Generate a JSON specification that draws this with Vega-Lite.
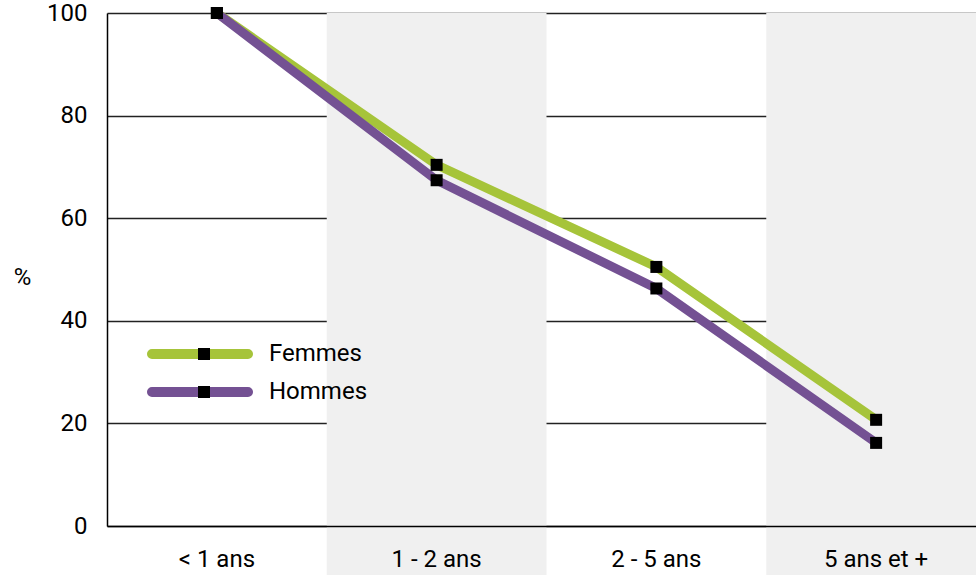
{
  "$schema": "https://vega.github.io/schema/vega-lite/v6.json",
  "autosize": "none",
  "width": 869,
  "height": 513,
  "padding": {"left": 107, "top": 13, "right": 0, "bottom": 49},
  "background": "white",
  "config": {
    "view": {"stroke": null},
    "font": "Roboto, sans-serif",
    "axis": {"labelFont": "Roboto, sans-serif", "labelColor": "black", "titleColor": "black", "titleFont": "Roboto, sans-serif"},
    "legend": {"labelFont": "Roboto, sans-serif"}
  },
  "datasets": {
    "bands": [{"age": "1 - 2 ans"}, {"age": "5 ans et +"}],
    "main": [
      {"age": "< 1 ans", "sexe": "Femmes", "serie": "F", "pct": 100},
      {"age": "1 - 2 ans", "sexe": "Femmes", "serie": "F", "pct": 70.4},
      {"age": "2 - 5 ans", "sexe": "Femmes", "serie": "F", "pct": 50.5},
      {"age": "5 ans et +", "sexe": "Femmes", "serie": "F", "pct": 20.7},
      {"age": "< 1 ans", "sexe": "Hommes", "serie": "H", "pct": 100},
      {"age": "1 - 2 ans", "sexe": "Hommes", "serie": "H", "pct": 67.4},
      {"age": "2 - 5 ans", "sexe": "Hommes", "serie": "H", "pct": 46.3},
      {"age": "5 ans et +", "sexe": "Hommes", "serie": "H", "pct": 16.2}
    ]
  },
  "encoding": {
    "x": {
      "field": "age", "type": "nominal",
      "sort": ["< 1 ans", "1 - 2 ans", "2 - 5 ans", "5 ans et +"],
      "scale": {"domain": ["< 1 ans", "1 - 2 ans", "2 - 5 ans", "5 ans et +"], "range": [0, 879], "paddingInner": 0, "paddingOuter": 0},
      "axis": {"title": null, "labelAngle": 0, "labelFontSize": 24, "labelPadding": 21, "ticks": false, "domainColor": "black", "domainWidth": 1.5, "zindex": 1, "labelColor": "black"}
    }
  },
  "layer": [
    {
      "data": {"name": "bands"},
      "mark": {"type": "rect", "color": "#f0f0f0", "clip": false},
      "encoding": {
        "y": {"datum": 100, "type": "quantitative", "scale": {"domain": [0, 100], "nice": false}},
        "y2": {"datum": -9.6}
      }
    },
    {
      "data": {"name": "main"},
      "mark": {"type": "line", "strokeWidth": 9, "strokeCap": "round"},
      "encoding": {
        "y": {
          "field": "pct", "type": "quantitative",
          "scale": {"domain": [0, 100], "nice": false},
          "axis": {"title": "%", "titleAngle": 0, "titleFontSize": 24, "titleFontWeight": "normal", "titleX": -85, "titleY": 264, "titleAlign": "center", "titleBaseline": "middle", "values": [0, 20, 40, 60, 80, 100], "labelFontSize": 24, "labelPadding": 20, "ticks": false, "domainColor": "black", "domainWidth": 1.5, "gridColor": "#222", "gridWidth": 1.3, "grid": true, "zindex": 0}
        },
        "color": {
          "field": "sexe", "type": "nominal",
          "scale": {"domain": ["Femmes", "Hommes"], "range": ["#a6c43a", "#745193"]},
          "legend": {"title": null, "orient": "none", "legendX": 37.5, "legendY": 329, "padding": 0,
            "symbolType": "M-0.9057,-0.0472L0.9057,-0.0472A0.0472,0.0472 0 0 1 0.9057,0.0472L-0.9057,0.0472A0.0472,0.0472 0 0 1 -0.9057,-0.0472Z",
            "symbolSize": 11236, "symbolStrokeWidth": 5, "clipHeight": 24, "rowPadding": 14, "labelFontSize": 24, "labelOffset": 13.5, "labelColor": "black", "zindex": 1}
        }
      }
    },
    {
      "data": {"name": "main"},
      "mark": {"type": "point", "filled": true, "size": 144, "opacity": 1},
      "encoding": {
        "y": {"field": "pct", "type": "quantitative"},
        "shape": {
          "field": "serie", "type": "nominal",
          "scale": {"domain": ["F", "H"], "range": ["square", "square"]},
          "legend": {"title": null, "orient": "none", "legendX": 85, "legendY": 329, "padding": 0, "symbolSize": 144, "symbolFillColor": "black", "symbolStrokeWidth": 0, "clipHeight": 24, "rowPadding": 14, "labelFontSize": 24, "labelOffset": 12.5, "labelOpacity": 0, "zindex": 2}
        },
        "color": {"value": "black"}
      }
    }
  ]
}
